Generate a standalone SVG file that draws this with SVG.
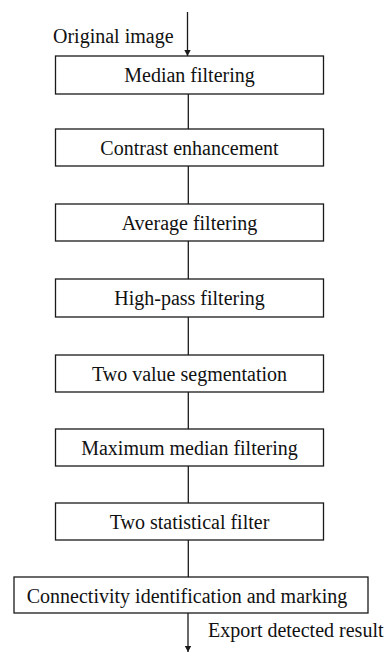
<svg xmlns="http://www.w3.org/2000/svg" width="392" height="656" viewBox="0 0 392 656">
  <style>
    .box { fill: #ffffff; stroke: #1a1a1a; stroke-width: 1.3; }
    .lbl { font-family: "Liberation Serif", "Times New Roman", serif; font-size: 20px; fill: #111111; }
    .mid { text-anchor: middle; }
    .edge { stroke: #1a1a1a; stroke-width: 1.3; fill: none; }
  </style>
  <defs>
    <marker id="arrow" viewBox="0 0 6 10" refX="6" refY="5" markerWidth="6" markerHeight="10" markerUnits="userSpaceOnUse" orient="auto">
      <path d="M0,1.8 L6,5 L0,8.2 Z" fill="#1a1a1a"/>
    </marker>
  </defs>

  <rect width="392" height="656" fill="#ffffff"/>

  <g id="connectors">
    <line class="edge" x1="187.5" y1="12" x2="187.5" y2="56" marker-end="url(#arrow)"/>
    <line class="edge" x1="188.3" y1="94" x2="188.3" y2="129"/>
    <line class="edge" x1="188.3" y1="166" x2="188.3" y2="204"/>
    <line class="edge" x1="188.3" y1="241" x2="188.3" y2="279"/>
    <line class="edge" x1="188.3" y1="317" x2="188.3" y2="355"/>
    <line class="edge" x1="188.3" y1="392" x2="188.3" y2="429"/>
    <line class="edge" x1="188.3" y1="466" x2="188.3" y2="503"/>
    <line class="edge" x1="188.3" y1="540" x2="188.3" y2="577"/>
    <line class="edge" x1="188" y1="613" x2="188" y2="652" marker-end="url(#arrow)"/>
  </g>

  <text class="lbl" x="53" y="43">Original image</text>
  <text class="lbl" x="208" y="637">Export detected result</text>

  <g id="median">
    <rect class="box" x="55.5" y="56" width="268" height="38"/>
    <text class="lbl mid" x="189.5" y="82">Median filtering</text>
  </g>
  <g id="contrast">
    <rect class="box" x="55.5" y="129" width="268" height="37"/>
    <text class="lbl mid" x="189.5" y="155">Contrast enhancement</text>
  </g>
  <g id="average">
    <rect class="box" x="55.5" y="204" width="268" height="37"/>
    <text class="lbl mid" x="189.5" y="230">Average filtering</text>
  </g>
  <g id="highpass">
    <rect class="box" x="55.5" y="279" width="268" height="38"/>
    <text class="lbl mid" x="189.5" y="305">High-pass filtering</text>
  </g>
  <g id="segmentation">
    <rect class="box" x="55.5" y="355" width="268" height="37"/>
    <text class="lbl mid" x="189.5" y="381">Two value segmentation</text>
  </g>
  <g id="maxmedian">
    <rect class="box" x="55.5" y="429" width="268" height="37"/>
    <text class="lbl mid" x="189.5" y="455">Maximum median filtering</text>
  </g>
  <g id="statistical">
    <rect class="box" x="55.5" y="503" width="268" height="37"/>
    <text class="lbl mid" x="189.5" y="529">Two statistical filter</text>
  </g>
  <g id="connectivity">
    <rect class="box" x="14" y="577" width="354" height="36"/>
    <text class="lbl mid" x="187" y="603">Connectivity identification and marking</text>
  </g>
</svg>
